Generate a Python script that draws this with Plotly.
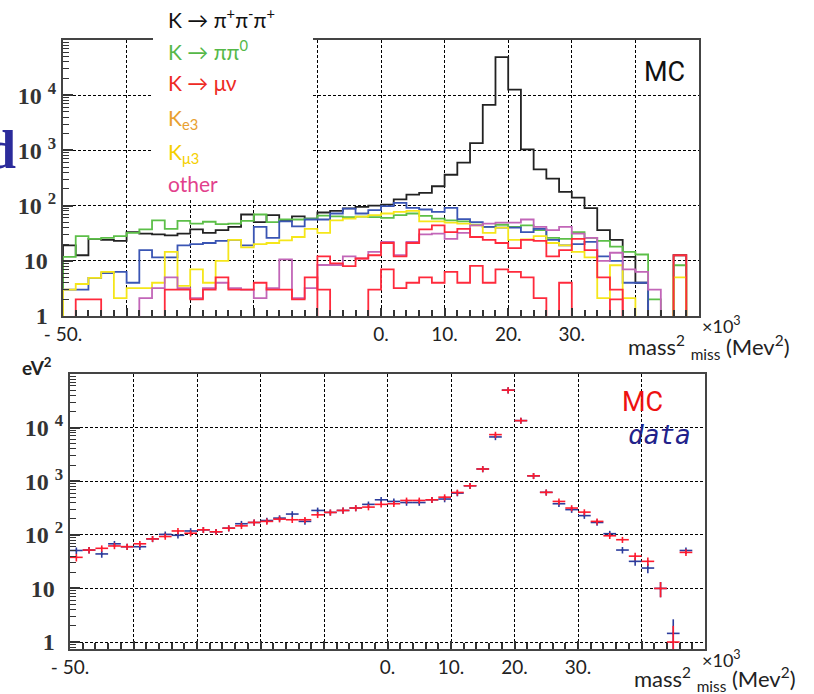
import numpy as np
import plotly.graph_objects as go

W, H = 814, 694

# ---------------- data (x in units of 10^3 MeV^2, 2-unit bins from -50 to 50) -------------
bin_edges = list(range(-50, 52, 2))

k3pi = [19, 12.6, 25, 24, 23, 33, 31, 30, 29, 31,
        37, 32, 36, 41, 69, 50, 67, 53, 64, 58,
        75, 80, 89, 95, 100, 104, 130, 158, 170, 224,
        362, 600, 1350, 6700, 49000, 12600, 1040, 455, 308, 177,
        140, 90, 36, 24, 11.8, 4, 0, 0, 12.6, 0]
kpipi0 = [11.8, 28, 25, 26, 28, 32, 37, 54, 38, 53,
          47, 51, 46, 47, 53, 69, 50, 56, 56, 58,
          66, 64, 62, 63, 62, 60, 67, 72, 65, 58,
          54, 52, 45, 41, 45, 41, 44, 36, 26, 25,
          33, 26, 23, 18, 14.5, 13, 2, 0, 8.3, 0]
blue_comp = [3, 3, 4.9, 6, 6.3, 4, 15.6, 11.5, 11.5, 19,
             20, 21, 23, 24, 19, 41, 26, 52, 42, 56,
             56, 72, 88, 72, 83, 98, 112, 91, 85, 77,
             91, 57, 50, 41, 40, 40, 33, 38, 24, 19,
             20, 22, 12, 10, 4, 4, 0, 0, 0, 0]
kmu3 = [3, 3.8, 4.9, 6.3, 2.1, 3.2, 3.2, 4, 14.5, 3.5,
        7, 4, 10, 24, 17.5, 20, 21, 23.5, 27, 38,
        32, 54, 58, 63, 67, 72, 77, 80, 52, 52,
        49, 47, 44, 32, 40, 24, 24.5, 28, 21, 19,
        14.5, 11.5, 2.1, 8.3, 2.1, 0, 0, 0, 5, 0]
other = [0, 0, 0, 0, 0, 0, 2.1, 3.2, 5, 3.2,
         2.1, 3.2, 4, 3.2, 3, 2.1, 3.2, 10.6, 2.1, 3.2,
         8.4, 8.4, 12, 11, 14.5, 22, 12.6, 22, 30, 31,
         25, 32, 44, 47, 49, 49, 56, 41, 36, 41,
         31, 26, 10, 14, 7, 6.3, 3, 0, 0, 0]
kmunu = [0, 0, 0, 0, 0, 0, 0, 0, 0, 0,
         0, 0, 0, 0, 0, 0, 0, 0, 0, 0,
         12, 9, 8, 11, 12.6, 21, 12, 21, 37, 44,
         33, 38, 27, 24, 21, 17, 24, 23, 12, 15.6,
         25, 15.6, 5, 3, 0, 0, 0, 0, 12.6, 0]
red_low = [0, 2, 2, 0, 0, 0, 0, 0, 3, 3,
           2, 3, 5, 3, 3, 4, 3, 3, 2, 5,
           3, 0, 0, 0, 3, 7, 3.2, 4, 5, 4,
           6.3, 4, 8.1, 4, 7, 6.3, 5, 2.1, 0, 4,
           0, 0, 0, 2, 0, 0, 0, 0, 0, 0]

mc = [38, 52, 56, 62, 60, 68, 84, 93, 118, 107,
      124, 114, 133, 147, 170, 178, 196, 191, 191, 236,
      262, 285, 316, 329, 370, 380, 438, 438, 450, 504,
      617, 822, 1690, 7400, 50000, 13500, 1260, 620, 420, 316,
      265, 178, 96, 81, 40, 32, 10, 1, 47, 0]
data = [51, 52, 44, 68, 60, 60, 84, 102, 98, 118,
        124, 114, 133, 161, 170, 185, 205, 244, 178, 285,
        262, 285, 316, 370, 450, 420, 400, 400, 450, 465,
        600, 822, 1690, 6700, 50000, 13500, 1260, 620, 380, 295,
        228, 170, 105, 52, 32, 24, 10, 1.45, 51, 0]

x_tickvals = list(range(-50, 51, 10))
x_ticktext = ["- 50.", "", "", "", "", "0.", "10.", "20.", "30.", "", ""]
y_tickvals = [1, 10, 100, 1000, 10000]
HID = "<sup><span style='color:rgba(0,0,0,0)'>0</span></sup>"
y_ticktext = ["1" + HID, "10" + HID, "10 <sup>2</sup>", "10 <sup>3</sup>", "10 <sup>4</sup>"]

# ---------------- helpers -------------
def px(x):
    return x / W


def py(y):
    return 1 - y / H


FLOOR = 0.3  # drawing level of empty bins (below the log axis range)


def step_xy(vals):
    xs = [bin_edges[0]] + list(bin_edges) + [bin_edges[-1]]
    ys = [v if v > 0 else FLOOR for v in vals]
    ys = [FLOOR] + ys + [ys[-1], FLOOR]
    return xs, ys


centers = [e + 1 for e in bin_edges[:-1]]


def err_arrays(vals):
    y, plus, minus = [], [], []
    for v in vals:
        if v > 0:
            e = max(np.sqrt(v), 0.13 * v)
            y.append(v)
            plus.append(e)
            minus.append(min(e, v - 0.2))
        else:
            y.append(None)
            plus.append(0)
            minus.append(0)
    return y, plus, minus


fig = go.Figure()

series = [
    (k3pi, "#222222"),
    (kpipi0, "#5cbf48"),
    (blue_comp, "#3a55b4"),
    (kmu3, "#f5e61a"),
    (other, "#c266b8"),
    (kmunu, "#ff2a3c"),
    (red_low, "#ff2a3c"),
]
for vals, col in series:
    xs, ys = step_xy(vals)
    fig.add_trace(go.Scatter(x=xs, y=ys, mode="lines", line=dict(shape="hv", color=col, width=1.8),
                             xaxis="x", yaxis="y", hoverinfo="skip"))

for vals, col in [(data, "#2c3c9c"), (mc, "#ff1a2e")]:
    y, plus, minus = err_arrays(vals)
    fig.add_trace(go.Scatter(
        x=centers, y=y, mode="markers", marker=dict(size=2, color=col),
        error_x=dict(type="constant", value=1, width=0, thickness=1.6, color=col),
        error_y=dict(type="data", array=plus, arrayminus=minus, symmetric=False,
                     width=0, thickness=1.6, color=col),
        xaxis="x2", yaxis="y2", hoverinfo="skip"))

tickfont_x = dict(family="Lato, sans-serif", size=19, color="#222")
tickfont_y = dict(family="Liberation Serif, serif", size=24, color="#333", weight="bold")

xcommon = dict(range=[-50, 50], tickmode="array", tickvals=x_tickvals, ticktext=x_ticktext,
               ticks="inside", ticklen=8, tickwidth=1.5, tickcolor="#333", automargin=False,
               showgrid=True, gridcolor="black", griddash="3px,2px", gridwidth=1,
               showline=True, linecolor="#444", linewidth=2, mirror=True, zeroline=False,
               minor=dict(dtick=2, ticks="inside", ticklen=6, tickwidth=1.5, tickcolor="#333", showgrid=False),
               tickfont=tickfont_x)
ycommon = dict(type="log", tickmode="array", tickvals=y_tickvals, ticktext=y_ticktext,
               ticks="inside", ticklen=10, tickwidth=1.5, tickcolor="#333", automargin=False,
               showgrid=True, gridcolor="black", griddash="3px,2px", gridwidth=1,
               showline=True, linecolor="#444", linewidth=2, mirror=True, zeroline=False,
               minor=dict(dtick="D1", ticks="inside", ticklen=6, tickwidth=1.2, tickcolor="#333", showgrid=False),
               tickfont=tickfont_y)

fig.update_layout(
    width=W, height=H, margin=dict(l=0, r=0, t=0, b=0, autoexpand=False),
    paper_bgcolor="white", plot_bgcolor="white", showlegend=False,
    xaxis=dict(domain=[px(63), px(699)], anchor="y", **xcommon),
    yaxis=dict(domain=[py(316), py(40)], anchor="x", range=[0, 5], **ycommon),
    xaxis2=dict(domain=[px(70), px(705)], anchor="y2", **xcommon),
    yaxis2=dict(domain=[py(649), py(374)], anchor="x2", range=[-0.13, 5.0], **ycommon),
)

# white box behind the legend text (covers the frame top / grid there)
fig.add_shape(type="rect", xref="paper", yref="paper", x0=px(153), x1=px(313), y0=py(200), y1=1.0,
              fillcolor="white", line=dict(width=0), layer="above")

SANS = "Lato, sans-serif"


def ann(text, x, y, size, color, xanchor="left", family=SANS, weight="normal", style="normal"):
    fig.add_annotation(text=text, x=px(x), y=py(y), xref="paper", yref="paper",
                       xanchor=xanchor, yanchor="middle", showarrow=False,
                       font=dict(family=family, size=size, color=color, weight=weight, style=style))


ann("K → π<sup>+</sup>π<sup>-</sup>π<sup>+</sup>", 166, 18, 21, "#111111")
ann("K → ππ<sup>0</sup>", 166, 50, 21, "#55b848")
ann("K → μν", 166, 83, 21, "#ee2a24")
ann("K<sub>e3</sub>", 166, 119, 21, "#e8a030")
ann("K<sub>μ3</sub>", 166, 153, 21, "#f5cf00")
ann("other", 166, 183, 21, "#e23f8c")

ann("MC", 664, 72, 27, "#111111", xanchor="center", family="Liberation Sans Narrow, Roboto, sans-serif")
ann("MC", 642, 402, 27, "#ee1111", xanchor="center", family="Liberation Sans Narrow, Roboto, sans-serif")
ann("data", 626, 435, 26, "#22228a", family="DejaVu Sans Mono, monospace", style="italic")

ann("d", 18, 150, 54, "#2b2b9b", xanchor="right", family="Liberation Serif, serif", weight="bold")
ann("eV<sup>2</sup>", 20, 366, 19, "#222222", weight="bold")

ann("×10<sup>3</sup>", 700, 325, 18, "#222222")
ann("mass<sup>2</sup> <sub>miss</sub> (Mev<sup>2</sup>)", 626, 347, 22, "#222222")
ann("×10<sup>3</sup>", 700, 659, 18, "#222222")
ann("mass<sup>2</sup> <sub>miss</sub> (Mev<sup>2</sup>)", 632, 679, 22, "#222222")

fig.write_html("out.html")
